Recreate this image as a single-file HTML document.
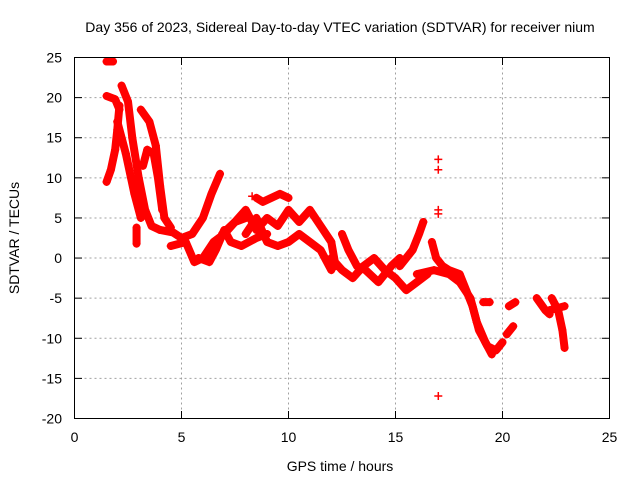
<!DOCTYPE html>
<html><head><meta charset="utf-8"><style>
body{margin:0;background:#fff}
svg text{font-family:"Liberation Sans",sans-serif;font-size:14px;fill:#000}
</style></head><body>
<svg id="c" width="640" height="480" xmlns="http://www.w3.org/2000/svg">
<rect width="640" height="480" fill="#fff"/>
<text x="340" y="32" text-anchor="middle">Day 356 of 2023, Sidereal Day-to-day VTEC variation (SDTVAR) for receiver nium</text>
<text x="340" y="471" text-anchor="middle">GPS time / hours</text>
<text transform="translate(19,238) rotate(-90)" text-anchor="middle">SDTVAR / TECUs</text>
<g id="grid"></g><g id="ticks"></g><g id="marks"></g>
<rect x="74.5" y="57.5" width="535" height="361" fill="none" stroke="#000"/>
</svg>
<script>
const xTicks=[0,5,10,15,20,25];
const yTicks=[-20,-15,-10,-5,0,5,10,15,20,25];
// tracks: [hour, sdtvar]
const track1=[[1.5,9.5],[1.7,11],[1.9,13.5],[2.0,16],[2.1,19]];
const track2=[[1.5,24.5],[1.8,24.5]];
const track3=[[1.5,20.2],[1.9,19.8],[2.1,18.5]];
const track4=[[2.2,21.5],[2.5,19.5],[2.7,15],[3.0,10],[3.3,6],[3.6,4],[4.0,3.5]];
const track5=[[2.0,17],[2.4,13],[2.8,8],[3.1,5]];
const track6=[[3.1,18.5],[3.5,17],[3.8,14],[4.0,9],[4.2,5],[4.5,3.8]];
const track7=[[3.2,11.5],[3.4,13.5],[3.7,13],[3.9,10],[4.1,6]];
const track8=[[2.9,1.8],[2.9,3.8]];
const track9=[[4.0,3.5],[4.6,3.2],[5.0,2.5],[5.5,3],[6.0,5],[6.4,8],[6.8,10.5]];
const track10=[[4.5,1.5],[5.2,2],[5.6,-0.5],[6.0,0],[6.5,2],[7.0,3],[7.5,4.5],[8.0,5]];
const track11=[[5.8,0],[6.3,-0.5],[6.6,1],[7.0,3.5],[7.3,2],[7.8,1.5],[8.5,2.5],[9.0,3]];
const track12=[[6.9,3],[7.5,4.5],[8.0,6],[8.5,3.5],[9.0,5],[9.5,4],[10.0,6],[10.5,4.5],[11.0,6],[11.5,4],[12.0,2],[12.2,-1]];
const track13=[[8.0,3],[8.5,5],[9.0,2],[9.5,1.5],[10.0,2],[10.5,3],[11.0,2],[11.5,1],[12.0,-1.5]];
const track14=[[8.5,7.5],[8.8,7],[9.6,8],[10.0,7.5]];
const track15=[[12.0,0],[12.5,-1.5],[13.0,-2.5],[13.5,-1],[14.0,0],[14.5,-1.5],[15.0,-2.5],[15.5,-4],[16.0,-3],[16.5,-2]];
const track16=[[12.5,3],[12.8,1],[13.2,-1],[13.6,-1.5],[14.2,-3],[14.8,-1],[15.2,0]];
const track17=[[15.2,-1],[15.8,1],[16.1,3],[16.3,4.5]];
const track18=[[16.7,2],[16.9,0],[17.2,-1],[17.5,-1.5],[18.0,-2],[18.3,-4],[18.6,-6],[18.9,-9],[19.3,-11],[19.7,-11.5],[20.0,-10.5]];
const track19=[[16.0,-2],[16.8,-1.5],[17.5,-2],[18.0,-3],[18.5,-5],[18.8,-8],[19.2,-10.5],[19.5,-12]];
const track20=[[19.1,-5.5],[19.4,-5.5]];
const track21=[[20.2,-9.5],[20.5,-8.5]];
const track22=[[20.3,-6],[20.6,-5.5]];
const track23=[[21.6,-5],[22.0,-6.5],[22.2,-7]];
const track24=[[22.3,-5],[22.6,-6.5],[22.8,-9],[22.9,-11.2]];
const track25=[[22.2,-6.5],[22.9,-6]];
const outliers=[[17,12.3],[17,11],[17,6],[17,5.5],[17,-17.2],[8.3,7.7]];
const tracks=[track1,track2,track3,track4,track5,track6,track7,track8,track9,track10,track11,track12,track13,track14,track15,track16,track17,track18,track19,track20,track21,track22,track23,track24,track25];
const NS="http://www.w3.org/2000/svg";
const X=v=>74.5+v*535/25, Y=v=>418.5-(v+20)*361/45;
const g=document.getElementById('grid'),tk=document.getElementById('ticks'),mk=document.getElementById('marks');
function el(t,a,p){const e=document.createElementNS(NS,t);for(const k in a)e.setAttribute(k,a[k]);p.appendChild(e);return e;}
xTicks.forEach(t=>{
 if(t>0&&t<25){const l=el('line',{x1:X(t),x2:X(t),y1:57.5,y2:418.5,stroke:'#a0a0a0','stroke-dasharray':'2,3'},g);
 
 }
 el('line',{x1:X(t),x2:X(t),y1:418.5,y2:411,stroke:'#000'},tk);
 el('line',{x1:X(t),x2:X(t),y1:57.5,y2:65,stroke:'#000'},tk);
 const s=el('text',{x:X(t),y:442,'text-anchor':'middle'},tk);s.textContent=t;
 
 
});
yTicks.forEach(t=>{
 if(t>-20&&t<25){const l=el('line',{x1:74.5,x2:609.5,y1:Y(t),y2:Y(t),stroke:'#a0a0a0','stroke-dasharray':'2,3'},g);
 
 }
 el('line',{x1:74.5,x2:82,y1:Y(t),y2:Y(t),stroke:'#000'},tk);
 el('line',{x1:602,x2:609.5,y1:Y(t),y2:Y(t),stroke:'#000'},tk);
 const s=el('text',{x:62,y:Y(t)+5,'text-anchor':'end'},tk);s.textContent=t;
 
 
});
function plus(x,y,n){const p=el('path',{d:`M${x-4},${y}h8M${x},${y-4}v8`,stroke:'#f00','stroke-width':1.5},mk);
 
 }
tracks.forEach((tr,i)=>{
 const pl=el('polyline',{points:tr.map(p=>X(p[0])+','+Y(p[1])).join(' '),fill:'none',stroke:'#f00','stroke-width':8,'stroke-linejoin':'round','stroke-linecap':'round'},mk);
 
 
 tr.forEach(p=>plus(X(p[0]),Y(p[1]),'sdtvar-point'));
});
outliers.forEach(p=>plus(X(p[0]),Y(p[1]),'sdtvar-outlier'));
</script>
</body></html>
